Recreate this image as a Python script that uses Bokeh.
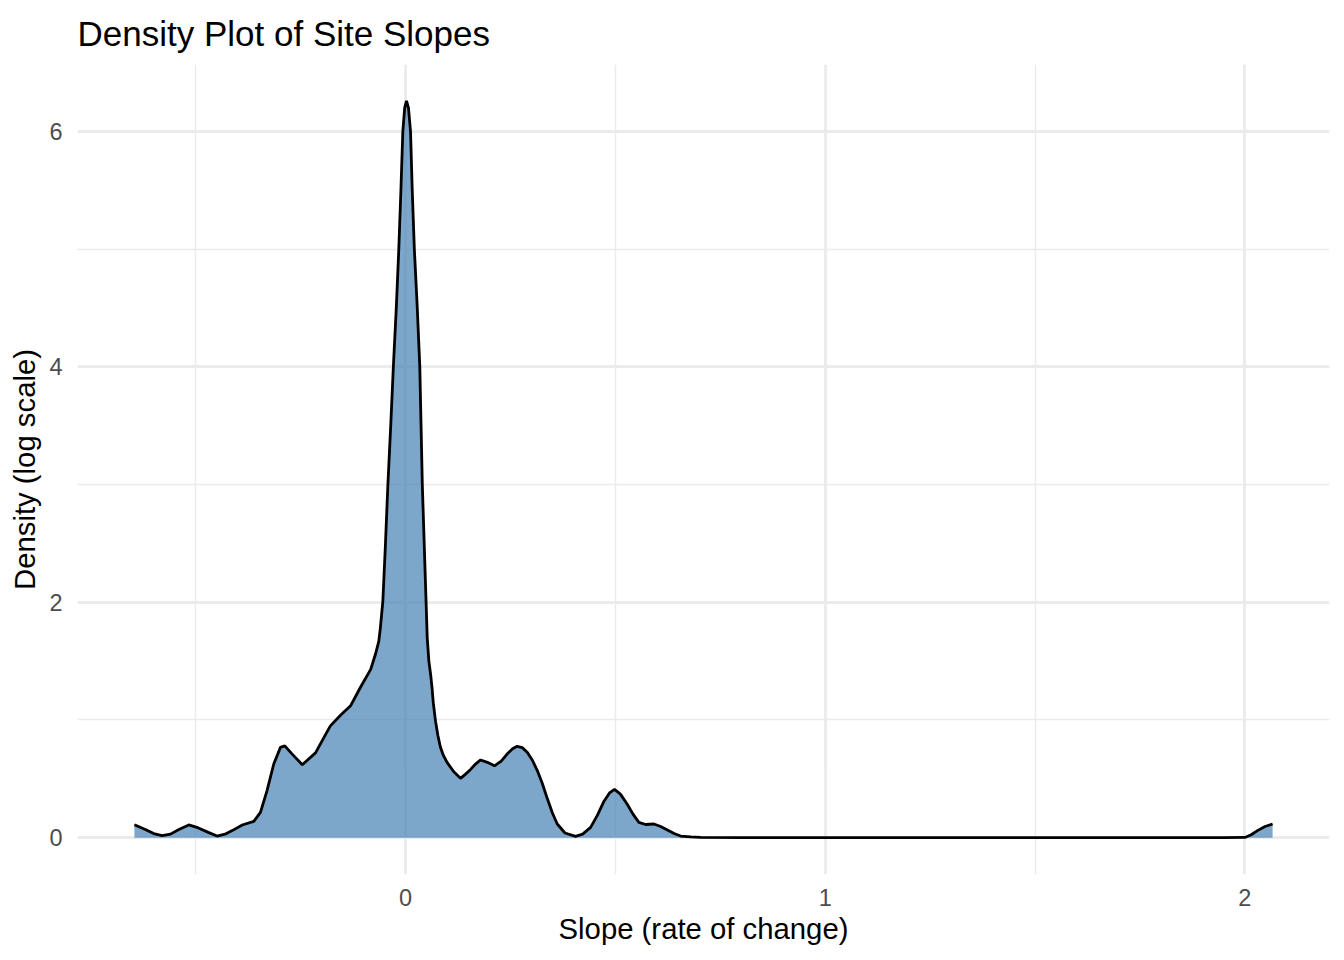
from bokeh.plotting import figure
from bokeh.models import Range1d, FixedTicker
from bokeh.embed import file_html
from bokeh.resources import INLINE

# Density curve (slope value, density)
slope = [-0.646, -0.62, -0.600, -0.580, -0.56, -0.54, -0.5165, -0.495, -0.47, -0.449,
         -0.43, -0.413, -0.389, -0.3615, -0.3457, -0.330, -0.314, -0.298, -0.2876, -0.270,
         -0.246, -0.2145, -0.19, -0.179, -0.155, -0.131, -0.107, -0.083, -0.0715, -0.0636,
         -0.060, -0.054, -0.048, -0.042, -0.035, -0.029, -0.022, -0.016, -0.011, -0.0064,
         -0.002, 0.0024, 0.007, 0.0119, 0.016, 0.021, 0.028, 0.034, 0.040, 0.049,
         0.0517, 0.0556, 0.0600, 0.0635, 0.066, 0.0715, 0.077, 0.083, 0.090, 0.099,
         0.115, 0.131, 0.143, 0.155, 0.168, 0.179, 0.195, 0.212, 0.228, 0.242,
         0.255, 0.266, 0.278, 0.29, 0.302, 0.314, 0.326, 0.338, 0.350, 0.3615,
         0.38, 0.405, 0.422, 0.441, 0.457, 0.473, 0.486, 0.498, 0.512, 0.528,
         0.542, 0.556, 0.572, 0.592, 0.608, 0.624, 0.640, 0.6555, 0.68, 0.703,
         0.80, 1.00, 1.20, 1.40, 1.60, 1.80, 1.95, 2.0, 2.015, 2.03, 2.048, 2.066]
density = [0.110, 0.070, 0.035, 0.017, 0.030, 0.070, 0.108, 0.085, 0.045, 0.014,
           0.030, 0.060, 0.108, 0.139, 0.215, 0.400, 0.626, 0.767, 0.780, 0.710,
           0.620, 0.720, 0.880, 0.950, 1.040, 1.120, 1.280, 1.430, 1.560, 1.670,
           1.780, 2.010, 2.480, 3.000, 3.520, 4.000, 4.500, 5.000, 5.500, 6.000,
           6.200, 6.260, 6.200, 6.000, 5.500, 5.000, 4.500, 4.000, 3.000, 2.000,
           1.700, 1.500, 1.380, 1.260, 1.150, 0.990, 0.870, 0.770, 0.700, 0.640,
           0.560, 0.504, 0.540, 0.580, 0.630, 0.660, 0.640, 0.610, 0.650, 0.710,
           0.755, 0.776, 0.765, 0.725, 0.660, 0.570, 0.460, 0.330, 0.210, 0.116,
           0.040, 0.011, 0.030, 0.088, 0.190, 0.310, 0.380, 0.410, 0.370, 0.286,
           0.200, 0.130, 0.112, 0.116, 0.095, 0.065, 0.035, 0.014, 0.006, 0.003,
           0.000, 0.000, 0.000, 0.000, 0.000, 0.000, 0.000, 0.002, 0.025, 0.060, 0.095, 0.116]

x_ticks = [0, 1, 2]
x_minor = [-0.5, 0.5, 1.5]
y_ticks = [0, 2, 4, 6]
y_minor = [1, 3, 5]
title_text = "Density Plot of Site Slopes"

FONT = "Liberation Sans"

p = figure(width=1336, height=947, output_backend="svg", toolbar_location=None,
           x_range=Range1d(-0.7816, 2.2016), y_range=Range1d(-0.3128, 6.568),
           title=title_text,
           min_border_left=77, min_border_right=7, min_border_top=64, min_border_bottom=70)

p.background_fill_color = "white"
p.border_fill_color = "white"
p.outline_line_color = None

p.title.text_font = FONT
p.title.text_font_size = "35px"
p.title.text_font_style = "normal"
p.title.text_color = "black"
p.title.align = "left"
p.title.standoff = 23

p.varea(x=slope, y1=0, y2=density, fill_color="#4682B4", fill_alpha=0.7)
p.line(x=slope, y=density, line_color="black", line_width=2.8)

p.xaxis.ticker = FixedTicker(ticks=x_ticks, minor_ticks=x_minor)
p.yaxis.ticker = FixedTicker(ticks=y_ticks, minor_ticks=y_minor)

for ax in (p.xaxis, p.yaxis):
    ax.axis_line_color = None
    ax.major_tick_line_color = None
    ax.minor_tick_line_color = None
    ax.major_tick_out = 0
    ax.major_tick_in = 0
    ax.major_label_text_font = FONT
    ax.major_label_text_font_size = "23.5px"
    ax.major_label_text_color = "#4D4D4D"
    ax.axis_label_text_font = FONT
    ax.axis_label_text_font_size = "29.3px"
    ax.axis_label_text_font_style = "normal"
    ax.axis_label_text_color = "black"

p.xaxis.axis_label = "Slope (rate of change)"
p.yaxis.axis_label = "Density (log scale)"
p.xaxis.major_label_standoff = 10
p.yaxis.major_label_standoff = 11
p.xaxis.axis_label_standoff = 3
p.yaxis.axis_label_standoff = 5

for g in (p.xgrid, p.ygrid):
    g.grid_line_color = "#EBEBEB"
    g.grid_line_width = 2.8
    g.minor_grid_line_color = "#EBEBEB"
    g.minor_grid_line_width = 1.4

open("out.html", "w").write(file_html(p, INLINE))
